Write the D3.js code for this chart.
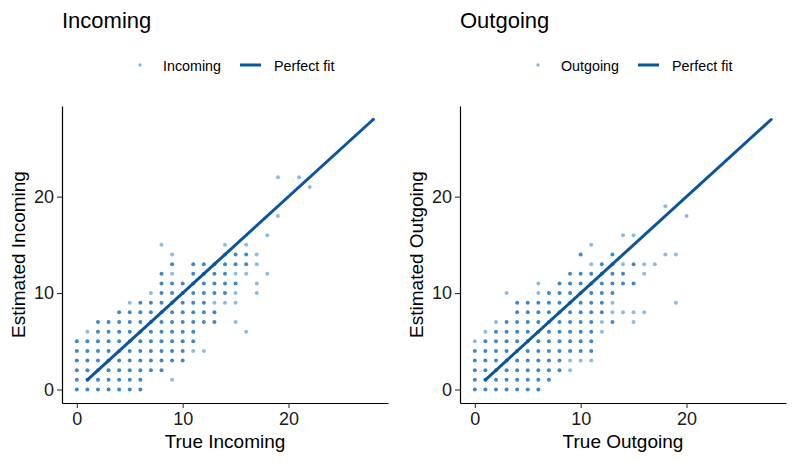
<!DOCTYPE html>
<html>
<head>
<meta charset="utf-8">
<script src="https://cdn.jsdelivr.net/npm/d3@7"></script>
<style>
  body { margin: 0; background: #fff; }
  text { font-family: "Liberation Sans", Arial, sans-serif; }
</style>
</head>
<body>
<script>
// rows of points: index in the list = estimated value, numbers = true values
const incomingRows = [
  [0,1,2,3,4,5,6],
  [0,1,2,3,4,5,6,9],
  [0,1,2,3,4,5,6,7,8],
  [0,1,2,3,4,5,6,7,8,9,10],
  [0,1,2,3,4,5,6,7,8,9,10,11,12],
  [0,1,2,3,4,5,6,7,8,9,10,11],
  [1,2,3,4,5,6,7,8,9,10,11,16],
  [2,3,4,5,6,7,8,9,10,11,12,13,15],
  [4,5,6,7,8,9,10,11,12,13],
  [5,6,7,8,9,10,11,12,13,14,15],
  [7,8,9,10,11,12,13,14,15,17],
  [8,9,10,11,12,13,14,15,17],
  [8,9,11,12,13,14,15,16,18],
  [9,11,12,13,14,15,16,17],
  [9,14,15,16,17],
  [8,14,16],
  [18],
  [],
  [19],
  [],
  [],
  [22],
  [19,21],
  [], [], [], [], [],
  [28]
];
// single (lighter) points per row
const incomingLight = [
  [], [9], [], [], [11,12], [], [1,16], [15], [], [5,13,14,15],
  [7,15,17], [17], [9,15,16,18], [17], [9,17], [8,14,16], [18], [], [19], [],
  [], [22], [19,21], [], [], [], [], [], [28]
];

const outgoingRows = [
  [0,1,2,3,4,5,6],
  [0,1,2,3,4,5,6,7],
  [0,1,2,3,4,5,6,7,8,9],
  [0,1,2,3,4,5,6,7,8,9,10,11],
  [0,1,2,3,4,5,6,7,8,9,10,11],
  [0,1,2,3,4,5,6,7,8,9,10,11],
  [1,2,3,4,5,6,7,8,9,10,11,12],
  [2,3,4,5,6,7,8,9,10,11,12,13,15],
  [4,5,6,7,8,9,10,11,12,13,14,15,16],
  [4,5,6,7,8,9,10,11,12,13,19],
  [3,6,7,8,9,10,11,12,13],
  [6,8,9,10,11,12,13,14,15],
  [9,10,11,12,13,14,16],
  [11,12,13,14,15,16,17],
  [10,13,18,19],
  [11],
  [14,15],
  [],
  [20],
  [18]
];
const outgoingLight = [
  [], [], [9], [9,10,11], [], [0], [1,12], [2,12,15], [13,14,15,16], [13,19],
  [3,6], [6], [16], [11,14,16,17], [18,19], [11], [14,15], [], [20], [18]
];

const fitLine = [1, 28];
const ticks = [0, 10, 20];
const panels = [
  { title: "Incoming", xlab: "True Incoming", ylab: "Estimated Incoming", rows: incomingRows, light: incomingLight, left: 62 },
  { title: "Outgoing", xlab: "True Outgoing", ylab: "Estimated Outgoing", rows: outgoingRows, light: outgoingLight, left: 460 }
];

const W = 797, H = 462;
const panelW = 326, plotTop = 106, plotBottom = 403;
const lightCol = "#8fbbe1", darkCol = "#3f88c7", lineCol = "#0b55a0";

const svg = d3.select("body").append("svg")
  .attr("width", W).attr("height", H);

panels.forEach(p => {
  const g = svg.append("g");
  const x = d3.scaleLinear().domain([-1.4, 29.4]).range([p.left, p.left + panelW]);
  const y = d3.scaleLinear().domain([-1.4, 29.4]).range([plotBottom, plotTop]);

  const pts = [];
  p.rows.forEach((row, est) => {
    row.forEach(t => pts.push({ t: t, e: est, light: p.light[est].includes(t) }));
  });

  g.selectAll("circle.pt").data(pts).enter().append("circle")
    .attr("class", "pt")
    .attr("cx", d => x(d.t))
    .attr("cy", d => y(d.e))
    .attr("r", 2)
    .attr("fill", d => d.light ? lightCol : darkCol);

  g.append("line")
    .attr("x1", x(fitLine[0])).attr("y1", y(fitLine[0]))
    .attr("x2", x(fitLine[1])).attr("y2", y(fitLine[1]))
    .attr("stroke", lineCol).attr("stroke-width", 3).attr("stroke-linecap", "round");

  const xAxis = g.append("g").attr("transform", `translate(0,${plotBottom})`)
    .call(d3.axisBottom(x).tickValues(ticks).tickSize(5).tickSizeOuter(0).tickPadding(4));
  const yAxis = g.append("g").attr("transform", `translate(${p.left},0)`)
    .call(d3.axisLeft(y).tickValues(ticks).tickSize(5).tickSizeOuter(0).tickPadding(3));
  [xAxis, yAxis].forEach(a => {
    a.select(".domain").attr("stroke", "#000").attr("stroke-width", 1.2);
    a.selectAll(".tick line").attr("stroke", "#333").attr("stroke-width", 1.1);
    a.selectAll(".tick text").attr("fill", "#1a1a1a")
      .style("font-size", "18px").style("font-family", "'Liberation Sans', Arial, sans-serif");
  });

  g.append("text")
    .attr("x", p.left).attr("y", 28)
    .style("font-size", "22px").attr("fill", "#000")
    .text(p.title);

  g.append("text")
    .attr("x", p.left + panelW / 2).attr("y", 448)
    .attr("text-anchor", "middle")
    .style("font-size", "19px").attr("fill", "#000")
    .text(p.xlab);

  g.append("text")
    .attr("transform", `translate(${p.left - 37},${(plotTop + plotBottom) / 2}) rotate(-90)`)
    .attr("text-anchor", "middle")
    .style("font-size", "19px").attr("fill", "#000")
    .text(p.ylab);

  // legend
  const lg = g.append("g").attr("transform", `translate(${p.left + 78},0)`);
  lg.append("circle").attr("cx", 0).attr("cy", 65).attr("r", 1.8).attr("fill", lightCol);
  lg.append("text").attr("x", 23).attr("y", 71).style("font-size", "14.3px").text(p.title);
  lg.append("line").attr("x1", 100).attr("x2", 121).attr("y1", 65).attr("y2", 65)
    .attr("stroke", lineCol).attr("stroke-width", 3);
  lg.append("text").attr("x", 134).attr("y", 71).style("font-size", "14.3px").text("Perfect fit");
});
</script>
</body>
</html>
